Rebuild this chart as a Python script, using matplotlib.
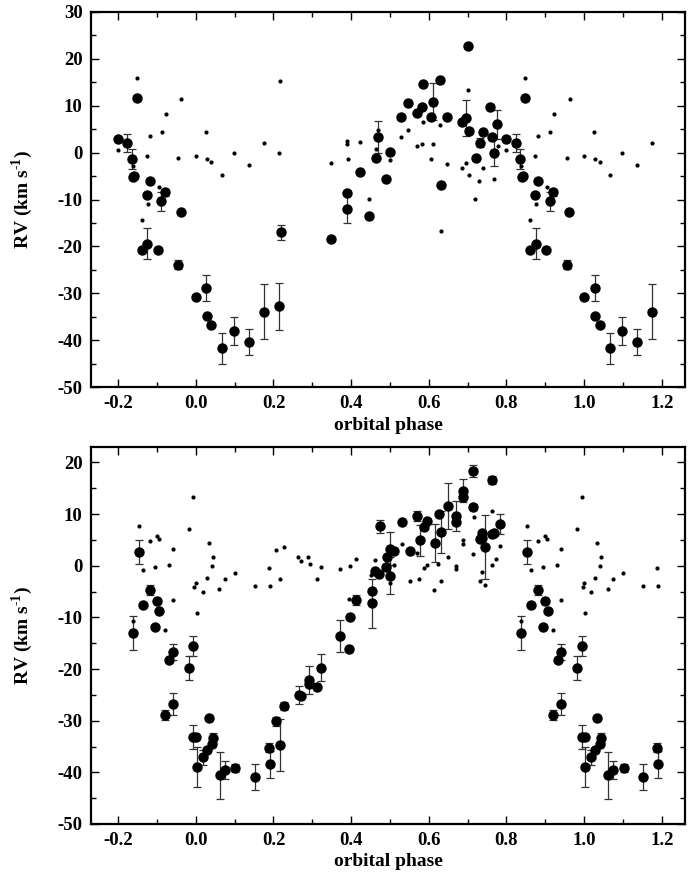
import numpy as np
import matplotlib
matplotlib.use('Agg')
import matplotlib.pyplot as plt
from matplotlib.ticker import MultipleLocator

plt.rcParams['font.family'] = ['Liberation Serif', 'DejaVu Serif']
plt.rcParams['mathtext.fontset'] = 'custom'
plt.rcParams['mathtext.rm'] = 'Liberation Serif:bold'
plt.rcParams['axes.unicode_minus'] = False

# ---- top panel: primary (big dots) phase, RV, error ----
top_phase = [0.001, 0.027, 0.029, 0.040, 0.068, 0.098, 0.137, 0.175, 0.214, 0.2185,
             0.348, 0.390, 0.390, 0.424, 0.447, 0.465, 0.468, 0.490, 0.501, 0.5285,
             0.5465, 0.569, 0.582, 0.585, 0.607, 0.612, 0.628, 0.632, 0.648, 0.686,
             0.695, 0.701, 0.704, 0.7205, 0.731, 0.739, 0.757, 0.764, 0.769, 0.777,
             0.800, 0.8235, 0.835, 0.839, 0.842, 0.848, 0.8615, 0.875, 0.8735, 0.8825,
             0.903, 0.9113, 0.921, 0.955, 0.962]
top_rv = [-30.7, -28.9, -34.8, -36.75, -41.7, -38.1, -40.45, -33.9, -32.8, -17.0,
          -18.4, -8.7, -11.95, -4.2, -13.5, -1.07, 3.35, -5.55, 0.2, 7.55,
          10.5, 8.55, 9.7, 14.6, 7.55, 10.9, 15.6, -7.0, 7.55, 6.55,
          7.35, 22.8, 4.55, -1.07, 2.1, 4.5, 9.8, 3.3, 0.0, 6.05,
          2.85, 2.1, -1.35, -5.3, -4.9, 11.75, -20.7, -19.4, -9.0, -6.05,
          -20.7, -10.4, -8.5, -23.9, -12.6]
top_err = [0, 2.75, 0, 0, 3.3, 3.0, 2.8, 5.8, 5.05, 1.55,
           0, 0, 3.05, 0, 0, 0, 3.4, 0, 0, 0,
           0, 0, 0, 0, 0, 3.85, 0, 0, 0, 0,
           3.8, 0, 0, 0, 1.0, 0, 0, 0, 2.85, 3.1,
           0, 1.9, 2.15, 0, 0, 0, 0, 3.35, 0, 0,
           0, 2.0, 0.8, 0.9, 0]

# ---- top panel: secondary (small dots) ----
top2_phase = [0.001, 0.0265, 0.029, 0.040, 0.068, 0.098, 0.136, 0.175, 0.2175, 0.214,
              0.348, 0.390, 0.390, 0.391, 0.424, 0.447, 0.465, 0.468, 0.501, 0.5285,
              0.5475, 0.5697, 0.582, 0.585, 0.607, 0.612, 0.628, 0.632, 0.647, 0.686,
              0.695, 0.702, 0.704, 0.720, 0.730, 0.739, 0.769, 0.778, 0.800, 0.838,
              0.849, 0.862, 0.8756, 0.874, 0.8825, 0.904, 0.9116, 0.922, 0.955, 0.963]
top2_rv = [-0.8, 4.35, -1.35, -2.05, -4.85, -0.07, -2.55, 2.1, 15.2, -0.14,
           -2.2, 2.4, 1.9, -1.35, 2.2, -9.8, 0.8, 4.85, -1.6, 3.35,
           4.9, 1.43, 1.92, 6.55, -1.35, 1.77, 5.98, -16.7, -2.4, -3.3,
           -2.3, 13.3, -4.85, -9.9, -6.05, -3.2, -5.55, 1.43, 0.57, -2.85,
           16.0, -14.4, -10.95, -0.8, 3.6, -7.35, 4.5, 8.2, -1.2, 11.4]

# ---- bottom panel: primary ----
bot_phase = [0.0015, 0.034, 0.0445, 0.042, 0.029, 0.018, 0.0026, 0.0625, 0.0745, 0.102,
             0.1525, 0.1877, 0.191, 0.216, 0.2064, 0.2278, 0.266, 0.270, 0.2905, 0.292,
             0.311, 0.322, 0.371, 0.395, 0.396, 0.412, 0.4525, 0.4525, 0.4627, 0.471,
             0.4738, 0.490, 0.4925, 0.4995, 0.500, 0.5105, 0.531, 0.551, 0.5697, 0.5766,
             0.587, 0.5946, 0.615, 0.626, 0.631, 0.650, 0.670, 0.670, 0.687, 0.689,
             0.7136, 0.7136, 0.731, 0.737, 0.737, 0.7445, 0.7625, 0.7635, 0.769, 0.783,
             0.8535, 0.882, 0.8645, 0.900, 0.9064, 0.8936, 0.837, 0.994, 0.940, 0.932,
             0.982, 0.921, 0.9416, 0.994]
bot_rv = [-33.2, -29.5, -33.3, -34.6, -35.6, -37.1, -38.95, -40.6, -39.55, -39.2,
          -40.95, -35.2, -38.45, -34.75, -30.15, -27.2, -25.05, -25.3, -22.1, -22.8,
          -23.55, -19.7, -13.6, -16.1, -9.83, -6.66, -4.85, -7.3, -1.1, -1.6,
          7.65, -0.25, 1.63, -1.94, 3.3, 2.8, 8.55, 2.8, 9.6, 4.93,
          7.5, 8.6, 4.47, 10.04, 6.54, 11.53, 9.7, 8.4, 14.56, 13.4,
          18.33, 11.4, 5.2, 6.35, 5.4, 3.63, 16.58, 6.2, 6.3, 8.1,
          2.66, -4.7, -7.57, -6.9, -8.67, -11.9, -13.05, -15.5, -16.7, -18.25,
          -19.8, -28.85, -26.7, -33.2]
bot_err = [0, 0, 1.0, 0, 0, 1.4, 3.95, 4.55, 1.8, 0.8,
           2.55, 0.9, 2.55, 5.05, 0.9, 0.8, 1.7, 0, 2.75, 0,
           0, 2.7, 3.1, 0, 0, 1.0, 0, 4.75, 0, 0,
           1.3, 0, 0, 3.6, 3.2, 0, 0, 0, 1.0, 3.0,
           0, 0, 3.7, 0, 4.0, 4.5, 2.9, 0, 2.2, 0,
           1.2, 0.6, 0, 0, 0, 6.15, 0.8, 0, 0, 1.85,
           2.35, 1.0, 0, 0, 0, 0, 3.25, 2.0, 1.6, 0,
           2.25, 1.0, 2.15, 2.3]

# ---- bottom panel: secondary ----
bot2_phase = [0.8535, 0.882, 0.900, 0.9055, 0.940, 0.982, 0.994, 0.034, 0.0445, 0.042,
              0.8645, 0.8936, 0.931, 0.837, 0.921, 0.9416, 0.0026, 0.0, 0.9965, 0.018,
              0.029, 0.0607, 0.0745, 0.101, 0.153, 0.1877, 0.191, 0.2057, 0.216, 0.2278,
              0.2638, 0.2707, 0.2895, 0.293, 0.311, 0.3216, 0.3709, 0.396, 0.412, 0.395,
              0.4627, 0.4515, 0.5105, 0.531, 0.500, 0.551, 0.576, 0.5697, 0.588, 0.5954,
              0.6247, 0.6494, 0.6692, 0.6692, 0.631, 0.6144, 0.688, 0.688, 0.7155, 0.7144,
              0.731, 0.7635, 0.7823, 0.772, 0.7635, 0.737, 0.7445]
bot2_rv = [7.65, 4.8, 5.83, 5.12, 3.3, 7.07, 13.34, 4.35, 1.63, 0.0,
           -0.9, -0.25, 0.2, -10.6, -12.35, -6.6, -9.05, -3.36, -4.2, -5.1,
           -2.4, -4.4, -2.6, -1.42, -4.0, -0.4, -4.0, 3.05, -2.5, 3.57,
           1.69, 0.97, 1.63, 0.39, -2.64, -0.31, -0.58, 0.0, 1.36, -6.4,
           1.1, -1.75, 0.07, 4.15, -3.3, -2.97, -2.58, 2.47, -0.45, 0.2,
           0.39, 1.63, -0.12, -0.58, -3.03, -4.66, 4.93, 4.15, 9.4, 2.33,
           -2.9, 10.7, 3.9, 1.24, 0.2, -1.3, -3.7]


def fold(phase, *cols):
    # repeat the 0.8-1.0 part at -0.2..0 and the 0-0.2 part at 1.0..1.2
    phase = np.asarray(phase)
    cols = [np.asarray(c) for c in cols]
    lo = phase >= 0.8
    hi = phase < 0.2
    out_p = np.concatenate([phase, phase[lo] - 1, phase[hi] + 1])
    out_c = [np.concatenate([c, c[lo], c[hi]]) for c in cols]
    return [out_p] + out_c


def draw(ax, p1, v1, e1, p2, v2, ylim, yticks):
    p, v, e = fold(p1, v1, e1)
    has = e > 0
    ax.errorbar(p[has], v[has], yerr=e[has], fmt='none', ecolor='#333333',
                elinewidth=0.9, capsize=3, capthick=0.9, zorder=2)
    ax.plot(p, v, 'o', color='black', ms=6.5, zorder=3)
    q, w = fold(p2, v2)
    ax.plot(q, w, 'o', color='black', ms=2.0, zorder=3)
    ax.set_xlim(-0.27, 1.26)
    ax.set_ylim(*ylim)
    ax.set_yticks(yticks)
    ax.xaxis.set_major_locator(MultipleLocator(0.2))
    ax.xaxis.set_minor_locator(MultipleLocator(0.1))
    ax.yaxis.set_minor_locator(MultipleLocator(5))
    ax.tick_params(which='both', direction='in', top=True, right=True,
                   labelsize=13.5, width=1.0)
    ax.tick_params(which='major', length=6, pad=6)
    ax.tick_params(which='minor', length=3.5)
    for lab in ax.get_xticklabels() + ax.get_yticklabels():
        lab.set_fontweight('bold')
    for s in ax.spines.values():
        s.set_linewidth(1.6)
    ax.set_xlabel('orbital phase', fontsize=14, fontweight='bold', labelpad=3)
    ax.set_ylabel(r'RV (km s$^{\text{-1}}$)', fontsize=14, fontweight='bold', labelpad=16)


fig = plt.figure(figsize=(6.88, 8.85), dpi=100)
ax1 = fig.add_axes([91 / 688, 1 - 387 / 885, 594 / 688, 375 / 885])
ax2 = fig.add_axes([91 / 688, 1 - 824 / 885, 594 / 688, 377 / 885])

draw(ax1, top_phase, top_rv, top_err, top2_phase, top2_rv, (-50, 30), np.arange(-50, 31, 10))
draw(ax2, bot_phase, bot_rv, bot_err, bot2_phase, bot2_rv, (-50, 23), np.arange(-50, 21, 10))

fig.savefig('out.png', dpi=100)
